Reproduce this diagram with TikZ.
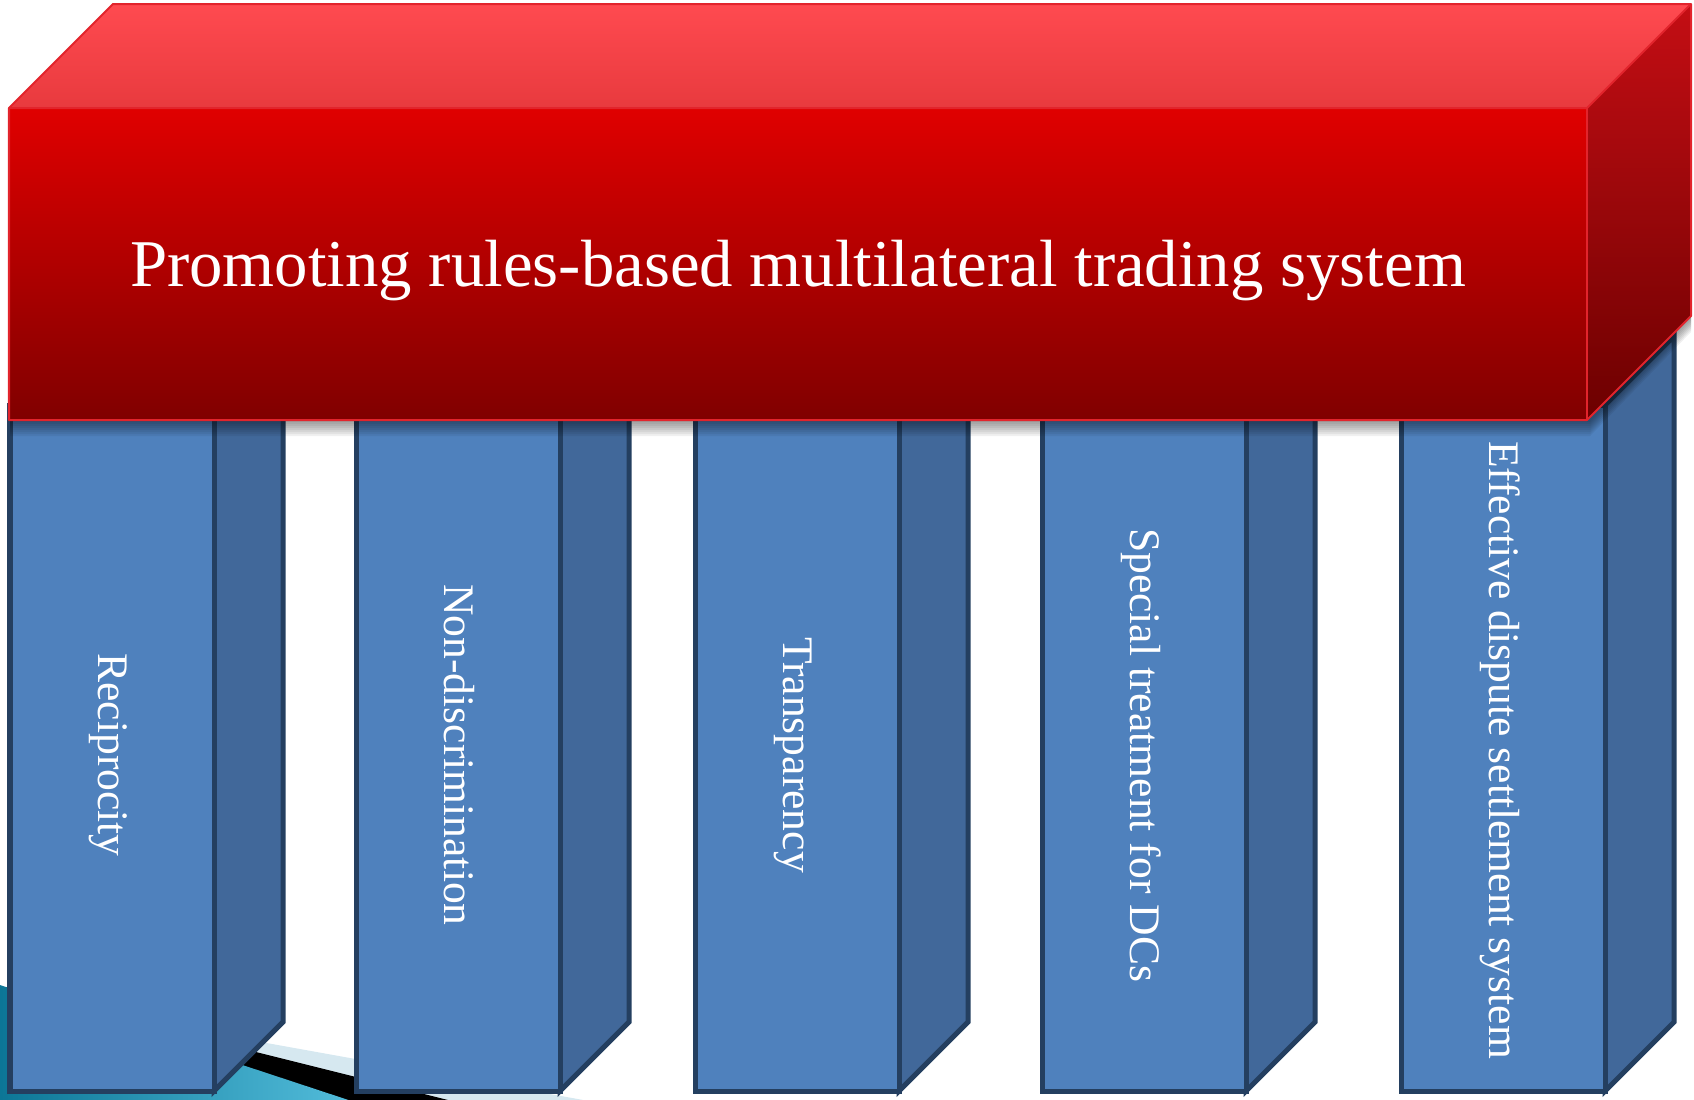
\documentclass[tikz,border=0pt]{standalone}
\usepackage{fontspec}
\setmainfont{Liberation Serif}
\definecolor{pillarface}{HTML}{4F81BD}
\definecolor{pillarside}{HTML}{41689A}
\definecolor{pillarline}{HTML}{243F60}
\definecolor{roofhi}{HTML}{E00000}
\definecolor{roofdark}{HTML}{800000}
\definecolor{rooftopback}{HTML}{FF4A50}
\definecolor{rooftopfront}{HTML}{E83A3E}
\definecolor{roofsidetop}{HTML}{C40E14}
\definecolor{roofsidebot}{HTML}{6C0000}
\definecolor{roofline}{HTML}{E2242C}
\definecolor{paleband}{HTML}{D6E8F0}
\definecolor{tealdark}{HTML}{0C7696}
\definecolor{teallight}{HTML}{5CC6E4}
\begin{document}
\begin{tikzpicture}[x=0.025cm, y=-0.025cm,
  pillarfront/.style={fill=pillarface, draw=pillarline, line width=0.125cm, line join=miter},
  pillarsidestyle/.style={fill=pillarside, draw=pillarline, line width=0.125cm, line join=miter},
  pillarlabel/.style={text=white, rotate=-90, anchor=base, inner sep=0pt,
    font=\fontsize{31}{37}\selectfont},
  rooflabel/.style={text=white, anchor=base, inner sep=0pt,
    font=\fontsize{47.5}{57}\selectfont},
  roofedge/.style={draw=roofline, line width=0.05cm, line join=round}]

\useasboundingbox (0,0) rectangle (1694,1099);

% sloping background bands in the lower left corner
\begin{scope}
  \clip (0,0) rectangle (1694,1099);
  \fill[paleband] (0,995) -- (700,1121) -- (0,1121) -- cycle;
  \fill[black] (0,988) -- (480,1108) -- (0,1108) -- cycle;
  \shade[left color=tealdark, right color=teallight]
    (0,985) -- (400,1117) -- (0,1117) -- cycle;
\end{scope}

% the five pillars
\foreach \px/\py/\txt [count=\k] in {10/755/Reciprocity, 356/755/Non-discrimination,
    695/755/Transparency, 1042/755/Special treatment for DCs,
    1401/750/Effective dispute settlement system}{
  \path[pillarsidestyle] ({\px+204},1091) -- ({\px+204},405)
    -- ({\px+273},336) -- ({\px+273},1022) -- cycle;
  \path[pillarfront] (\px,405) rectangle ({\px+204},1091);
  \node[pillarlabel] (pillar\k) at ({\px+88},\py) {\txt};
}

% soft shadow cast by the roof block
\foreach \s in {0,...,7}{
  \fill[black, opacity=0.06] (10,420) -- (1587,420) -- (1691,316)
    -- (1691,{318+2*\s}) -- ({1587+3},{422+2*\s}) -- (10,{422+2*\s}) -- cycle;
}

% roof block
\shade[top color=rooftopback, bottom color=rooftopfront]
  (9,108) -- (113,4) -- (1691,4) -- (1587,108) -- cycle;
\shade[top color=roofsidetop, bottom color=roofsidebot]
  (1587,108) -- (1691,4) -- (1691,316) -- (1587,420) -- cycle;
\shade[top color=roofhi, bottom color=roofdark] (9,108) rectangle (1587,420);
\draw[roofedge] (9,108) -- (113,4) -- (1691,4) -- (1691,316) -- (1587,420)
  -- (9,420) -- cycle;
\draw[roofedge] (9,108) -- (1587,108) -- (1691,4);
\draw[roofedge] (1587,108) -- (1587,420);

\node[rooflabel] (title) at (798,286) {Promoting rules-based multilateral trading system};
\end{tikzpicture}
\end{document}
